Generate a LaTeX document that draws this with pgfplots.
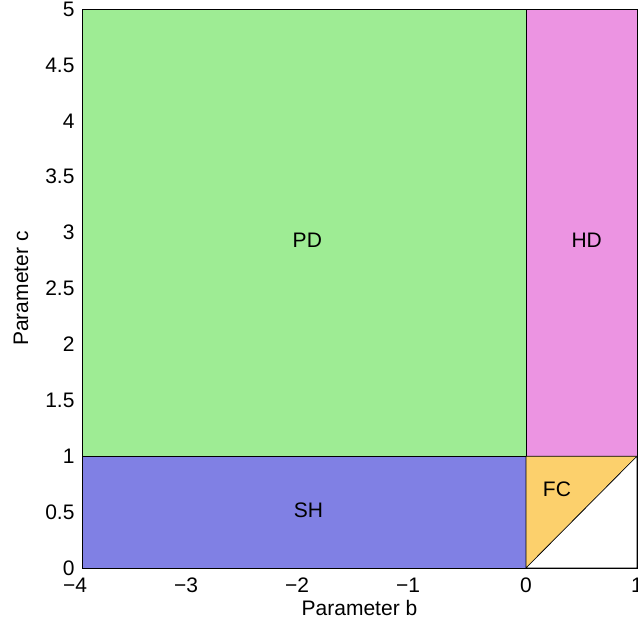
\documentclass[border=0pt]{standalone}
\usepackage{pgfplots}
\pgfplotsset{compat=1.18}
\usetikzlibrary{calc}
\usepackage{fontspec}
\setmainfont{Liberation Sans}
\definecolor{cPD}{RGB}{158,236,148}
\definecolor{cHD}{RGB}{236,148,226}
\definecolor{cSH}{RGB}{128,128,228}
\definecolor{cFC}{RGB}{252,208,108}
\begin{document}
\begin{tikzpicture}
\begin{axis}[
  name=ax,
  scale only axis,
  width=555pt, height=559pt,
  xmin=-4, xmax=1, ymin=0, ymax=5,
  xtick={-4,-3,-2,-1,0,1},
  xticklabels={−4\kern14pt,−3\kern14pt,−2\kern14pt,−1\kern14pt,0,1},
  ytick={0,0.5,1,1.5,2,2.5,3,3.5,4,4.5,5},
  yticklabels={0,0.5,1,1.5,2,2.5,3,3.5,4,4.5,5},
  major tick length=0pt,
  tick label style={font=\fontsize{21}{24}\selectfont},
  label style={font=\fontsize{21}{24}\selectfont},
  xlabel={Parameter b}, ylabel={Parameter c},
  xticklabel style={anchor=center, yshift=-17pt},
  yticklabel style={xshift=-4pt},
  xlabel style={at={(axis description cs:0.5,0)}, anchor=center, yshift=-40pt},
  ylabel style={at={(axis description cs:0,0.5)}, anchor=center, yshift=61pt},
  axis line style={black, line width=0.8pt},
  axis on top,
]
\addplot[fill=cPD, draw=black, line width=0.6pt] coordinates {(-4,1) (0,1) (0,5) (-4,5)} -- cycle;
\addplot[fill=cHD, draw=black, line width=0.6pt] coordinates {(0,1) (1,1) (1,5) (0,5)} -- cycle;
\addplot[fill=cSH, draw=black, line width=0.6pt] coordinates {(-4,0) (0,0) (0,1) (-4,1)} -- cycle;
\addplot[fill=cFC, draw=black, line width=0.6pt] coordinates {(0,0) (1,1) (0,1)} -- cycle;
\addplot[fill=white, draw=black, line width=0.6pt] coordinates {(0,0) (1,0) (1,1)} -- cycle;
\node[font=\fontsize{21}{24}\selectfont] at (axis cs:-1.97,2.93) {PD};
\node[font=\fontsize{21}{24}\selectfont] at (axis cs:0.547,2.93) {HD};
\node[font=\fontsize{21}{24}\selectfont] at (axis cs:-1.96,0.52) {SH};
\node[font=\fontsize{21}{24}\selectfont] at (axis cs:0.279,0.70) {FC};
\end{axis}
\pgfresetboundingbox
\useasboundingbox ($(ax.south west)+(-82pt,-60pt)$) rectangle ($(ax.north east)+(1pt,9pt)$);
\end{tikzpicture}
\end{document}
